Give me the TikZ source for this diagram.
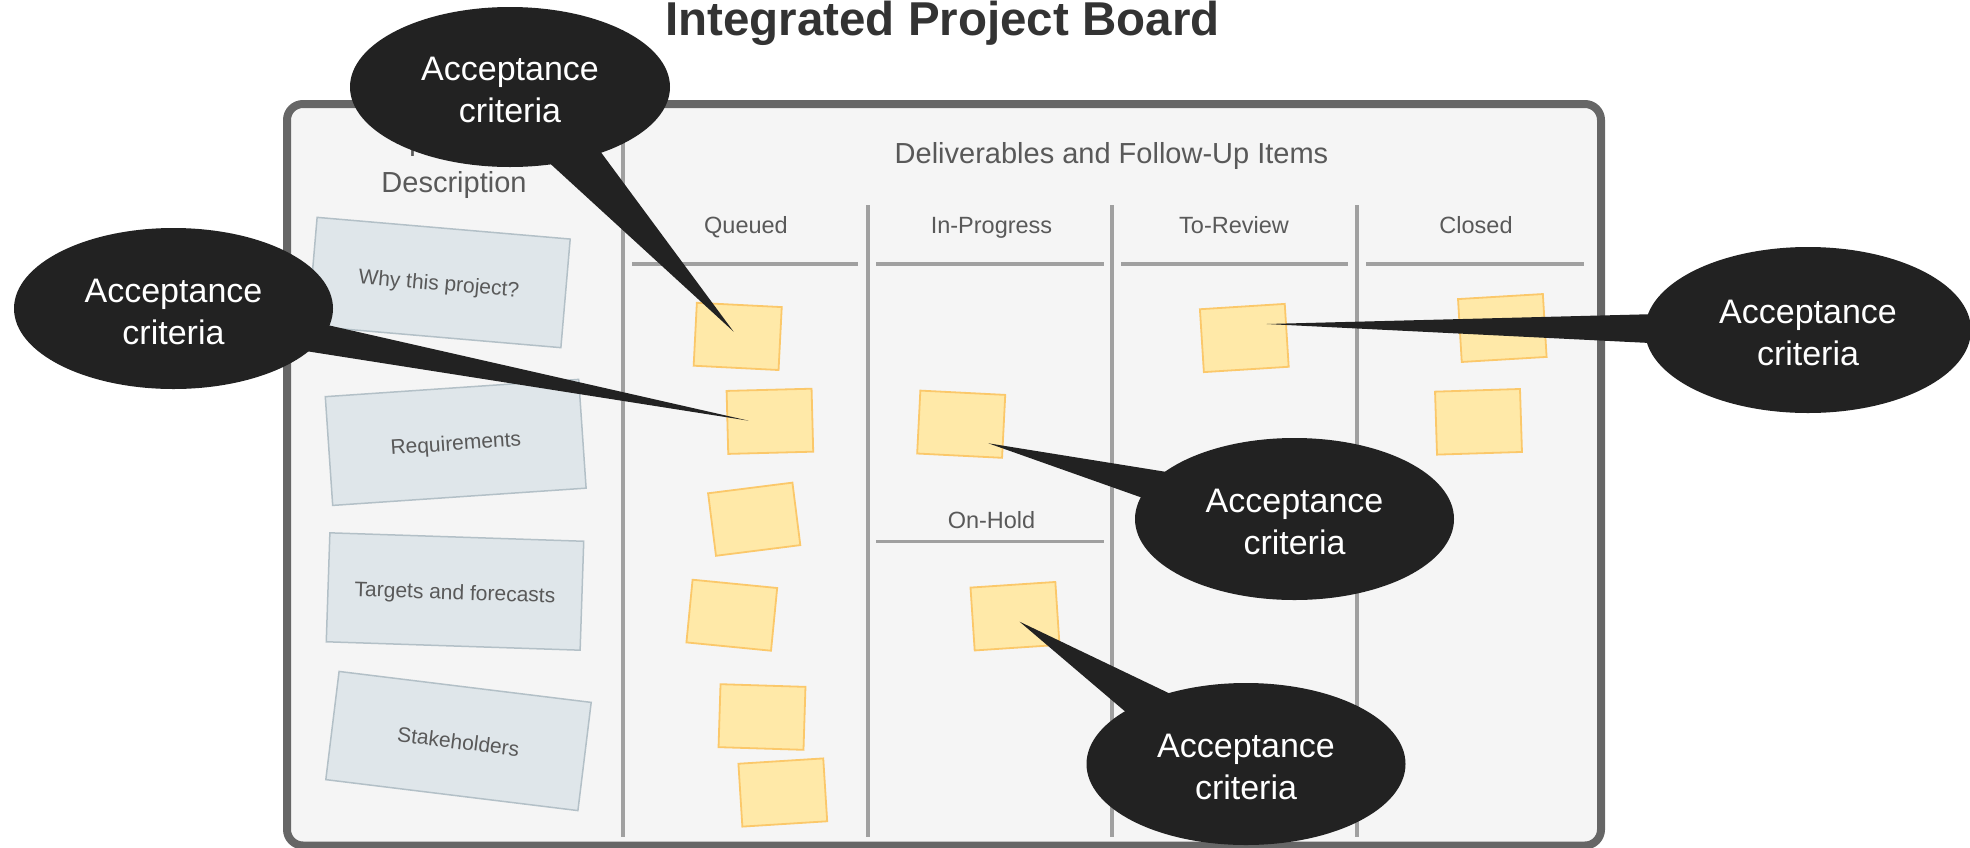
\documentclass[tikz,border=0pt]{standalone}
\usepackage{fontspec}
\setmainfont{Liberation Sans}
\usetikzlibrary{shapes.geometric,calc}
\definecolor{boardfill}{HTML}{F5F5F5}
\definecolor{boardline}{HTML}{666666}
\definecolor{divline}{HTML}{A0A0A0}
\definecolor{hdrtext}{HTML}{595959}
\definecolor{titletext}{HTML}{333333}
\definecolor{cardfill}{HTML}{DFE6EA}
\definecolor{cardline}{HTML}{B3C0C7}
\definecolor{stickyfill}{HTML}{FFE9A8}
\definecolor{stickyline}{HTML}{FBC86A}
\definecolor{calloutfill}{HTML}{222222}
\begin{document}
\begin{tikzpicture}[x=0.5pt,y=-0.5pt,
  boardbox/.style={draw=boardline, line width=4pt, fill=boardfill, rounded corners=8pt,
    minimum width=657pt, minimum height=370.75pt, inner sep=0pt},
  divider/.style={draw=divline, line width=1.75pt},
  hdr/.style={text=hdrtext, font=\fontsize{11.75pt}{14pt}\selectfont, inner sep=0pt, anchor=base},
  bighdr/.style={text=hdrtext, font=\fontsize{14.5pt}{17.5pt}\selectfont, inner sep=0pt, anchor=base},
  card/.style={draw=cardline, line width=0.75pt, fill=cardfill, minimum width=127pt,
    minimum height=54.5pt, inner sep=0pt, text=hdrtext, text height=10pt, text depth=2pt,
    font=\fontsize{10.5pt}{12.6pt}\selectfont},
  sticky/.style={draw=stickyline, line width=0.9pt, fill=stickyfill, minimum width=42.5pt,
    minimum height=31.5pt, inner sep=0pt},
  callout/.style={ellipse, fill=calloutfill, inner sep=0pt},
  ctext/.style={text=white, align=center, inner sep=0pt, font=\fontsize{17pt}{21pt}\selectfont},
  wedge/.style={fill=calloutfill}
]
\useasboundingbox (0,0) rectangle (1970,847);

% title
\node[font=\fontsize{23.75pt}{28pt}\selectfont\bfseries, text=titletext, anchor=base, inner sep=0pt]
  (title) at (942.5,35) {Integrated Project Board};

% board
\node[boardbox] (board) at (944,474.75) {};

% dividers
\draw[divider] (623,109) -- (623,837);
\draw[divider] (868,205) -- (868,837);
\draw[divider] (1112,205) -- (1112,837);
\draw[divider] (1357,205) -- (1357,837);
\draw[divider] (632,264) -- (858,264);
\draw[divider] (876,264) -- (1104,264);
\draw[divider] (1121,264) -- (1348,264);
\draw[divider] (1366,264) -- (1584,264);
\draw[divider] (876,541.5) -- (1104,541.5);

% headers
\node[bighdr] (proj) at (454,156) {Project};
\node[bighdr] (desc) at (454,192) {Description};
\node[bighdr] (deliv) at (1111.5,163) {Deliverables and Follow-Up Items};
\node[hdr] (hq) at (746,233) {Queued};
\node[hdr] (hp) at (991.5,233) {In-Progress};
\node[hdr] (hr) at (1234,233) {To-Review};
\node[hdr] (hc) at (1476,233) {Closed};
\node[hdr] (hh) at (991.5,528.5) {On-Hold};

% description cards
\node[card, rotate=-4.9] (c1) at (439,282.5) {Why this project?};
\node[card, rotate=3.9] (c2) at (455.7,442.4) {Requirements};
\node[card, rotate=-1.9] (c3) at (455,591.5) {Targets and forecasts};
\node[card, rotate=-7] (c4) at (458.5,741) {Stakeholders};

% sticky notes
\node[sticky, rotate=-2.9] (q1) at (737.7,336.4) {};
\node[sticky, rotate=1.5] (q2) at (769.9,421.3) {};
\node[sticky, rotate=7.2] (q3) at (754.2,519.2) {};
\node[sticky, rotate=-5.6] (q4) at (731.8,615.2) {};
\node[sticky, rotate=-1.8] (q5) at (762,717) {};
\node[sticky, rotate=3.6] (q6) at (782.8,792.5) {};
\node[sticky, rotate=-2.9] (p1) at (961.2,424.2) {};
\node[sticky, rotate=3.8] (h1) at (1015,616.2) {};
\node[sticky, rotate=3.6] (r1) at (1244.3,338) {};
\node[sticky, rotate=3.4] (k1) at (1502.3,328) {};
\node[sticky, rotate=1.8] (k2) at (1478.5,421.8) {};

% callout tips and wedge bases
\coordinate (ta) at (733.5,331.5);
\coordinate (a1) at (551.7,165);
\coordinate (a2) at (601.7,153.3);
\coordinate (tb) at (748.7,420.7);
\coordinate (b1) at (331.7,326);
\coordinate (b2) at (310,351.7);
\coordinate (tc) at (1266.5,324);
\coordinate (c1b) at (1647,314.3);
\coordinate (c2b) at (1644,342.7);
\coordinate (td) at (988.4,443.3);
\coordinate (d1) at (1165,471.7);
\coordinate (d2) at (1140,497);
\coordinate (te) at (1019.6,621.7);
\coordinate (e1) at (1125.4,711.7);
\coordinate (e2) at (1167.9,692.7);

% wedges
\fill[wedge] ($(ta)!1.08!(a1)$) -- (ta) -- ($(ta)!1.08!(a2)$) -- cycle;
\fill[wedge] ($(tb)!1.08!(b1)$) -- (tb) -- ($(tb)!1.08!(b2)$) -- cycle;
\fill[wedge] ($(tc)!1.08!(c1b)$) -- (tc) -- ($(tc)!1.08!(c2b)$) -- cycle;
\fill[wedge] ($(td)!1.08!(d1)$) -- (td) -- ($(td)!1.08!(d2)$) -- cycle;
\fill[wedge] ($(te)!1.08!(e1)$) -- (te) -- ($(te)!1.08!(e2)$) -- cycle;

% callout bodies
\node[callout, minimum width=160pt, minimum height=80pt] (ca) at (510,87) {};
\node[callout, minimum width=159.5pt, minimum height=80.5pt] (cb) at (173.5,308.5) {};
\node[callout, minimum width=163pt, minimum height=83pt] (cc) at (1808,330) {};
\node[callout, minimum width=159.5pt, minimum height=81pt] (cd) at (1294.5,519) {};
\node[callout, minimum width=159.5pt, minimum height=81pt] (ce) at (1246,764) {};

% callout texts
\node[ctext] (cat) at ([yshift=-1.5pt]ca.center) {Acceptance\\criteria};
\node[ctext] (cbt) at ([yshift=-1.5pt]cb.center) {Acceptance\\criteria};
\node[ctext] (cct) at ([yshift=-1.5pt]cc.center) {Acceptance\\criteria};
\node[ctext] (cdt) at ([yshift=-1.5pt]cd.center) {Acceptance\\criteria};
\node[ctext] (cet) at ([yshift=-1.5pt]ce.center) {Acceptance\\criteria};
\end{tikzpicture}
\end{document}
